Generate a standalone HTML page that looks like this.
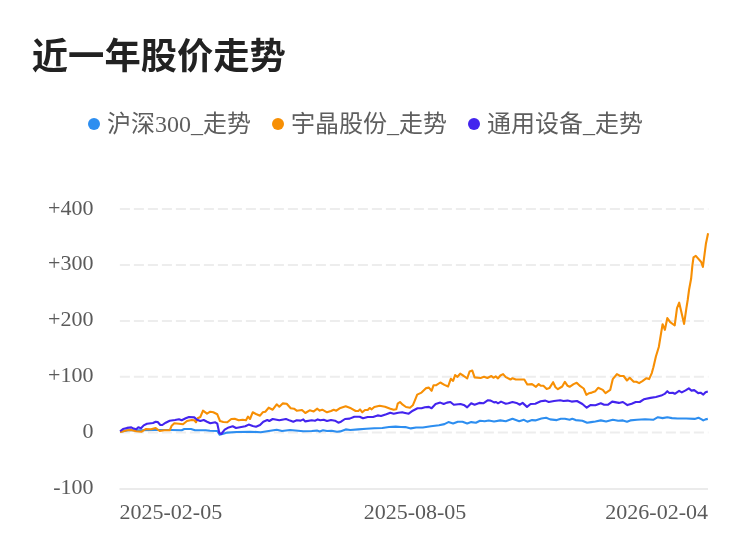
<!DOCTYPE html>
<html lang="zh-CN"><head><meta charset="utf-8"><title>近一年股价走势</title>
<style>
html,body{margin:0;padding:0;background:#fff;}
body{width:750px;height:558px;overflow:hidden;position:relative;font-family:"Liberation Serif","Noto Sans CJK SC",serif;}
h1{position:absolute;left:31.8px;top:31.5px;margin:0;font:bold 36.3px/50px "Liberation Sans","Noto Sans CJK SC",sans-serif;color:#222;white-space:nowrap;}
svg{position:absolute;left:0;top:0;}
.lg{font-family:"Liberation Serif","Noto Sans CJK SC",serif;font-size:24px;fill:#5e5e5e;}
.ax{font-family:"Liberation Serif","Noto Sans CJK SC",serif;font-size:22px;fill:#5a5a5a;}
</style></head><body>
<h1>近一年股价走势</h1>
<svg width="750" height="558" viewBox="0 0 750 558">
<g>
<circle cx="94" cy="124" r="6" fill="#2D8EF0"/><text class="lg" x="106.9" y="132.3">沪深300_走势</text>
<circle cx="278" cy="124" r="6" fill="#F78F04"/><text class="lg" x="290.9" y="132.3">宇晶股份_走势</text>
<circle cx="474" cy="124" r="6" fill="#4324EE"/><text class="lg" x="486.9" y="132.3">通用设备_走势</text>
</g>
<g stroke="#ededed" stroke-width="2" stroke-dasharray="10 4" fill="none">
<line x1="119.9" x2="708.4" y1="209.1" y2="209.1"/>
<line x1="119.9" x2="708.4" y1="265.0" y2="265.0"/>
<line x1="119.9" x2="708.4" y1="320.9" y2="320.9"/>
<line x1="119.9" x2="708.4" y1="376.8" y2="376.8"/>
<line x1="119.9" x2="708.4" y1="432.6" y2="432.6"/>
</g>
<line x1="119.5" x2="708" y1="489.1" y2="489.1" stroke="#ebebeb" stroke-width="2"/>
<g class="ax" text-anchor="end">
<text class="ax" x="93.5" y="214.5">+400</text>
<text class="ax" x="93.5" y="270.3">+300</text>
<text class="ax" x="93.5" y="326.1">+200</text>
<text class="ax" x="93.5" y="381.9">+100</text>
<text class="ax" x="93.5" y="437.7">0</text>
<text class="ax" x="93.5" y="493.7">-100</text>
</g>
<text class="ax" x="119.5" y="518.6" text-anchor="start">2025-02-05</text>
<text class="ax" x="415" y="518.6" text-anchor="middle">2025-08-05</text>
<text class="ax" x="708" y="518.6" text-anchor="end">2026-02-04</text>
<g fill="none" stroke-width="2.1" stroke-linejoin="round" stroke-linecap="butt">
<polyline stroke="#2D8EF0" points="120.0,431.7 128.3,430.3 141.7,430.3 155.0,430.0 171.0,430.0 181.7,430.3 184.3,429.0 191.0,429.0 195.0,430.3 205.7,430.3 210.0,430.7 217.3,431.0 219.6,434.7 223.3,433.7 227.3,432.6 236.7,432.0 250.0,431.7 260.7,432.3 268.7,431.0 276.7,429.7 282.0,431.0 290.0,430.0 298.0,430.7 303.3,431.3 311.7,431.0 317.0,430.6 319.7,431.4 323.0,430.3 327.0,431.0 331.7,430.7 337.0,431.7 340.3,431.4 345.7,429.4 350.3,430.0 358.3,429.4 366.3,428.7 374.3,428.3 382.3,428.0 389.0,427.0 395.7,426.6 401.0,427.0 405.4,427.1 410.8,428.4 416.1,427.5 422.8,427.5 430.9,426.2 439.0,425.2 444.4,424.1 448.4,422.1 453.1,423.5 457.8,421.7 462.5,421.7 467.2,423.5 471.2,422.1 475.9,422.8 480.0,420.8 484.7,421.2 488.7,420.5 494.1,421.5 500.4,420.4 505.8,421.2 512.5,418.8 515.2,419.8 519.2,421.2 523.9,419.8 527.3,421.7 532.0,420.1 535.3,420.4 541.4,418.5 546.1,417.8 550.1,419.4 556.8,420.1 560.9,418.8 564.9,418.8 569.6,419.8 572.3,418.8 575.6,420.1 582.4,420.8 587.1,422.8 591.1,422.1 595.4,421.5 600.8,420.4 606.1,421.5 612.8,419.8 618.2,420.8 622.9,420.4 627.0,421.7 630.3,420.4 637.0,419.8 645.1,419.2 653.2,419.8 657.9,417.2 662.6,418.1 667.3,417.2 672.0,418.1 677.5,418.5 686.1,418.5 694.7,418.9 698.5,417.8 701.2,419.1 703.3,420.4 705.5,419.4 707.8,418.9"/>
<polyline stroke="#F78F04" points="120.0,431.9 121.7,431.7 127.0,430.3 131.0,430.0 136.3,431.3 141.7,431.7 145.7,429.0 151.0,429.3 155.7,428.0 159.7,431.0 164.3,430.3 169.7,430.3 171.7,425.7 174.3,423.3 179.0,423.7 183.0,424.3 187.0,421.0 191.7,420.0 194.3,420.3 196.0,422.3 197.7,418.3 200.3,417.0 203.0,410.7 207.0,413.7 210.3,411.7 213.3,412.3 217.3,414.3 220.0,421.0 223.3,422.0 227.3,422.3 231.3,419.0 234.7,418.7 238.7,420.3 242.7,419.7 246.0,420.3 248.0,416.6 250.0,419.0 252.7,412.3 256.0,414.0 260.0,415.7 262.7,412.3 265.3,411.7 268.7,407.7 272.7,409.7 276.7,404.3 279.3,406.7 282.7,403.4 286.7,403.7 290.7,408.3 294.0,408.7 296.7,410.7 302.0,410.0 305.3,413.0 309.7,410.3 313.7,411.4 317.3,408.7 319.7,410.6 322.3,409.7 327.0,412.3 331.0,411.0 333.7,409.7 336.3,410.7 339.7,408.3 345.7,406.3 351.0,408.3 355.7,411.0 358.3,411.0 360.0,409.4 362.3,412.3 365.0,410.0 367.7,410.0 369.7,408.0 371.7,409.3 374.3,407.0 379.7,405.7 385.0,406.7 390.3,408.7 393.7,409.7 396.3,409.3 397.7,403.7 400.0,402.0 402.7,404.7 406.0,407.0 410.0,407.7 412.8,405.3 414.8,400.6 417.2,394.6 421.5,392.6 426.2,388.1 428.9,387.6 431.6,390.8 433.6,385.2 436.3,385.2 440.3,382.5 444.4,384.9 448.1,386.5 450.8,378.8 453.1,380.9 455.1,375.1 457.5,376.8 460.2,373.7 463.8,376.0 467.2,378.4 469.6,371.5 472.3,370.6 474.6,377.4 480.6,378.0 484.0,376.8 487.4,378.0 491.4,376.0 493.4,377.8 495.7,376.4 498.0,378.4 500.4,375.5 503.1,374.1 505.8,377.1 510.5,379.5 512.5,378.2 515.8,379.5 519.9,379.5 524.3,379.5 527.3,384.5 532.0,384.1 536.0,386.8 538.7,384.1 540.7,385.8 543.4,385.8 546.7,388.9 549.4,388.1 553.1,382.2 555.5,387.2 557.9,389.2 562.2,386.5 564.9,381.8 567.6,385.8 569.6,386.8 573.6,384.1 576.7,382.7 580.3,386.2 583.7,388.5 586.4,394.8 589.1,393.2 591.8,392.6 595.4,391.2 598.1,387.8 602.8,389.9 605.5,393.2 610.2,389.9 612.8,379.1 616.9,374.1 620.2,376.0 623.6,376.0 627.0,380.5 629.7,377.8 633.7,381.8 636.4,381.8 639.1,383.1 642.4,381.1 646.5,378.2 649.1,379.1 651.8,373.1 653.4,367.2 655.9,356.5 658.8,347.0 660.8,334.9 662.6,324.2 664.9,329.8 667.3,318.1 670.2,322.2 674.7,325.5 677.0,308.1 679.2,302.7 681.7,313.4 684.1,323.9 686.4,308.1 687.7,300.0 689.1,289.5 691.1,278.8 692.4,265.3 693.5,257.3 695.8,255.9 701.2,262.0 702.9,266.9 704.5,254.6 705.9,243.8 708.1,233.3"/>
<polyline stroke="#4324EE" points="120.1,431.3 123.0,429.0 127.0,427.9 131.3,427.4 133.7,428.6 136.3,429.3 138.3,427.3 141.0,428.3 143.7,425.4 147.0,423.7 153.0,423.0 155.7,421.7 157.7,422.0 160.3,425.0 162.3,425.0 165.7,422.7 169.7,420.7 175.0,420.0 179.0,419.3 181.7,420.3 185.7,418.3 189.0,417.0 194.3,417.4 197.0,419.7 200.3,421.0 203.7,420.0 207.0,421.7 210.3,423.3 215.3,422.3 217.3,423.7 219.3,433.0 221.3,434.0 224.7,429.7 228.7,427.4 232.7,426.3 236.0,428.0 241.3,427.0 245.3,426.3 248.7,424.6 252.7,426.0 256.0,426.7 260.0,425.0 263.3,421.7 267.3,420.0 269.3,421.0 272.7,419.0 279.3,420.3 286.0,419.0 290.0,420.6 293.3,421.7 296.7,420.3 300.7,420.6 303.3,419.4 305.3,421.4 311.7,420.3 315.0,420.7 317.7,419.4 320.3,420.3 323.7,419.7 327.0,421.0 331.0,420.0 335.0,420.7 338.3,422.7 341.0,421.7 345.0,419.0 349.7,418.6 354.3,416.7 359.7,416.7 363.0,418.3 367.7,417.0 373.0,417.0 377.7,415.4 381.0,416.0 386.3,414.3 390.3,412.7 393.7,413.7 398.3,412.7 402.3,412.3 404.0,412.7 408.7,413.7 412.8,410.7 417.5,408.3 421.5,408.3 424.9,407.3 428.9,406.9 431.6,408.3 435.6,404.0 440.3,402.6 443.7,404.0 447.0,402.6 450.4,402.0 453.8,404.7 460.5,404.0 464.5,405.3 467.2,407.3 471.2,403.3 474.6,404.7 479.3,402.9 483.3,403.3 488.0,400.2 490.7,400.6 494.1,402.4 496.1,402.0 498.0,403.3 501.0,401.6 505.8,403.7 508.4,403.3 512.5,402.0 516.5,402.9 519.9,404.7 522.6,402.9 527.0,406.9 530.6,404.0 535.3,403.7 540.7,401.3 545.4,400.6 548.8,402.0 554.1,401.0 560.2,400.2 563.5,401.0 567.6,400.6 571.6,401.6 577.0,401.0 582.4,404.0 586.7,407.7 590.4,405.1 595.4,405.3 600.8,403.3 604.1,404.7 608.1,404.7 612.2,401.6 618.9,402.9 622.9,402.0 627.4,405.1 631.7,403.7 635.7,402.0 639.7,402.0 643.8,399.3 650.5,397.9 655.9,397.0 661.2,395.6 664.6,393.9 667.3,391.2 669.3,393.0 672.7,392.7 674.8,393.8 679.1,390.9 681.8,392.4 685.6,390.4 688.8,388.4 691.5,390.6 694.2,390.1 698.2,393.1 700.6,392.7 703.3,394.6 705.5,392.2 707.8,391.5"/>
</g>
</svg>
</body></html>
